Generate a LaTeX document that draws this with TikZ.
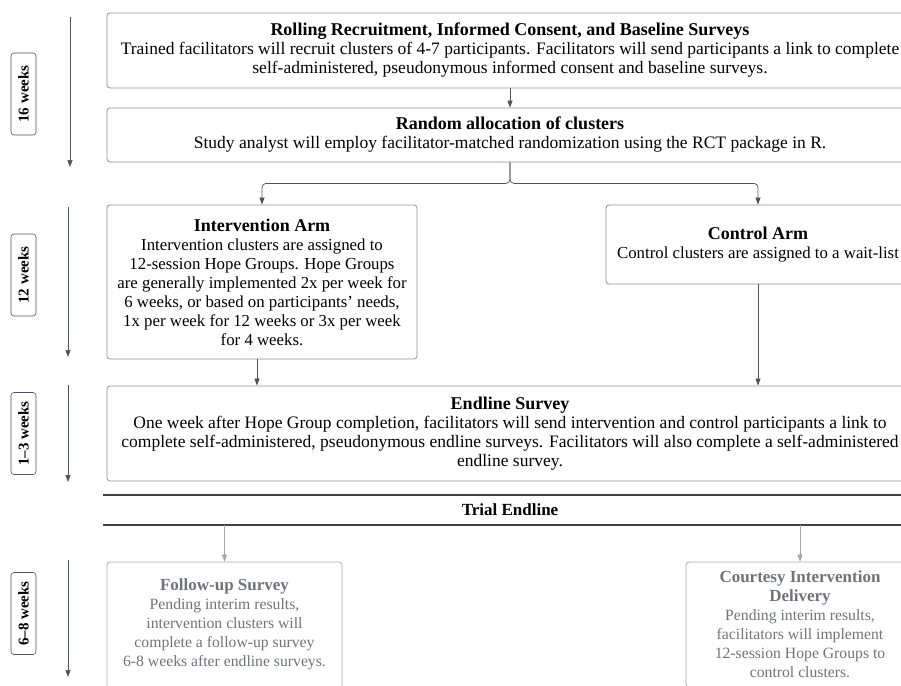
\documentclass[tikz,border=0pt]{standalone}
\usepackage{fontspec}
\setmainfont{Liberation Serif}
\usetikzlibrary{arrows.meta,positioning,calc}
\definecolor{boxline}{HTML}{8C9099}
\definecolor{arrowc}{HTML}{4B5263}
\definecolor{rulec}{HTML}{3A3F4B}
\definecolor{fadetext}{HTML}{6E737C}
\definecolor{fadeline}{HTML}{A3A7AD}
\newcommand{\stagehead}[1]{{\fontsize{18}{19}\selectfont\bfseries #1}}
\newcommand{\fadehead}[1]{{\fontsize{17}{19}\selectfont\bfseries #1}}
\begin{document}
\begin{tikzpicture}[x=1pt,y=-1pt,
  stage/.style={draw=boxline,line width=0.8pt,rounded corners=3pt,align=center,inner sep=2pt,font=\fontsize{17.5}{19}\selectfont},
  armbox/.style={stage,font=\fontsize{16.8}{19}\selectfont},
  faded/.style={stage,draw=fadeline,text=fadetext,font=\fontsize{15.7}{19}\selectfont},
  weekbox/.style={draw=arrowc,line width=0.6pt,rounded corners=3pt,rotate=90,minimum width=82pt,minimum height=25pt,inner sep=1pt,font=\bfseries\fontsize{15}{16}\selectfont},
  flow/.style={draw=arrowc,line width=0.7pt,-{Triangle[length=7pt,width=5pt]}},
  fadeflow/.style={flow,draw=fadeline}]
\clip (0,0) rectangle (901,685);
\node[stage,minimum width=806pt,minimum height=75pt] (recruit) at (510,50.5) {\stagehead{Rolling Recruitment, Informed Consent, and Baseline Surveys}\\Trained facilitators will recruit clusters of 4-7 participants. Facilitators will send participants a link to complete\\self-administered, pseudonymous informed consent and baseline surveys.};
\node[stage,minimum width=806pt,minimum height=54pt] (alloc) at (510,135) {\stagehead{Random allocation of clusters}\\Study analyst will employ facilitator-matched randomization using the RCT package in R.};
\node[armbox,minimum width=310pt,minimum height=154pt] (interv) at (262,282) {\stagehead{Intervention Arm}\\Intervention clusters are assigned to\\12-session Hope Groups. Hope Groups\\are generally implemented 2x per week for\\6 weeks, or based on participants' needs,\\1x per week for 12 weeks or 3x per week\\for 4 weeks.};
\node[armbox,minimum width=304pt,minimum height=79pt] (control) at (758,244.5) {\stagehead{Control Arm}\\Control clusters are assigned to a wait-list};
\node[stage,minimum width=806pt,minimum height=95pt] (endline) at (510,433.5) {\stagehead{Endline Survey}\\One week after Hope Group completion, facilitators will send intervention and control participants a link to\\complete self-administered, pseudonymous endline surveys. Facilitators will also complete a self-administered\\endline survey.};
\coordinate (ruletop) at (103,495);
\coordinate (rulebot) at (103,525);
\draw[rulec,line width=1.6pt] (ruletop) -- ++(820,0);
\draw[rulec,line width=1.6pt] (rulebot) -- ++(820,0);
\node[font=\bfseries\fontsize{17}{19}\selectfont] (trial) at (510,510) {Trial Endline};
\node[faded,minimum width=235pt,minimum height=140pt] (followup) at (224.5,632) {\fadehead{Follow-up Survey}\\Pending interim results,\\intervention clusters will\\complete a follow-up survey\\6-8 weeks after endline surveys.\\\mbox{}};
\node[faded,minimum width=228pt,minimum height=125pt] (courtesy) at (800,624.5) {\fadehead{Courtesy Intervention}\\\fadehead{Delivery}\\Pending interim results,\\facilitators will implement\\12-session Hope Groups to\\control clusters.};
\draw[flow] (recruit) -- (alloc);
\draw[flow,rounded corners=4pt] (alloc.south) -- ++(0,21) -| (interv.north);
\draw[flow,rounded corners=4pt] (alloc.south) -- ++(0,21) -| (control.north);
\draw[flow] ([xshift=-5pt]interv.south) -- ([xshift=-5pt]interv.south |- endline.north);
\draw[flow] (control.south) -- (control.south |- endline.north);
\draw[fadeflow] (followup.north |- rulebot) -- (followup.north);
\draw[fadeflow] (courtesy.north |- rulebot) -- (courtesy.north);
\node[weekbox] (w16) at (23.5,94) {16 weeks};
\node[weekbox] (w12) at (23.5,275) {12 weeks};
\node[weekbox] (w13) at (23.5,433.5) {1--3 weeks};
\node[weekbox] (w68) at (23.5,613.5) {6--8 weeks};
\coordinate (t16a) at (70,17);
\coordinate (t16b) at (70,167);
\coordinate (t12a) at (68,207);
\coordinate (t12b) at (68,357);
\coordinate (t13a) at (68,385);
\coordinate (t13b) at (68,482);
\coordinate (t68a) at (68,560);
\coordinate (t68b) at (68,677);
\foreach \a/\b in {t16a/t16b,t12a/t12b,t13a/t13b,t68a/t68b}
  \draw[flow] (\a) -- (\b);
\end{tikzpicture}
\end{document}
